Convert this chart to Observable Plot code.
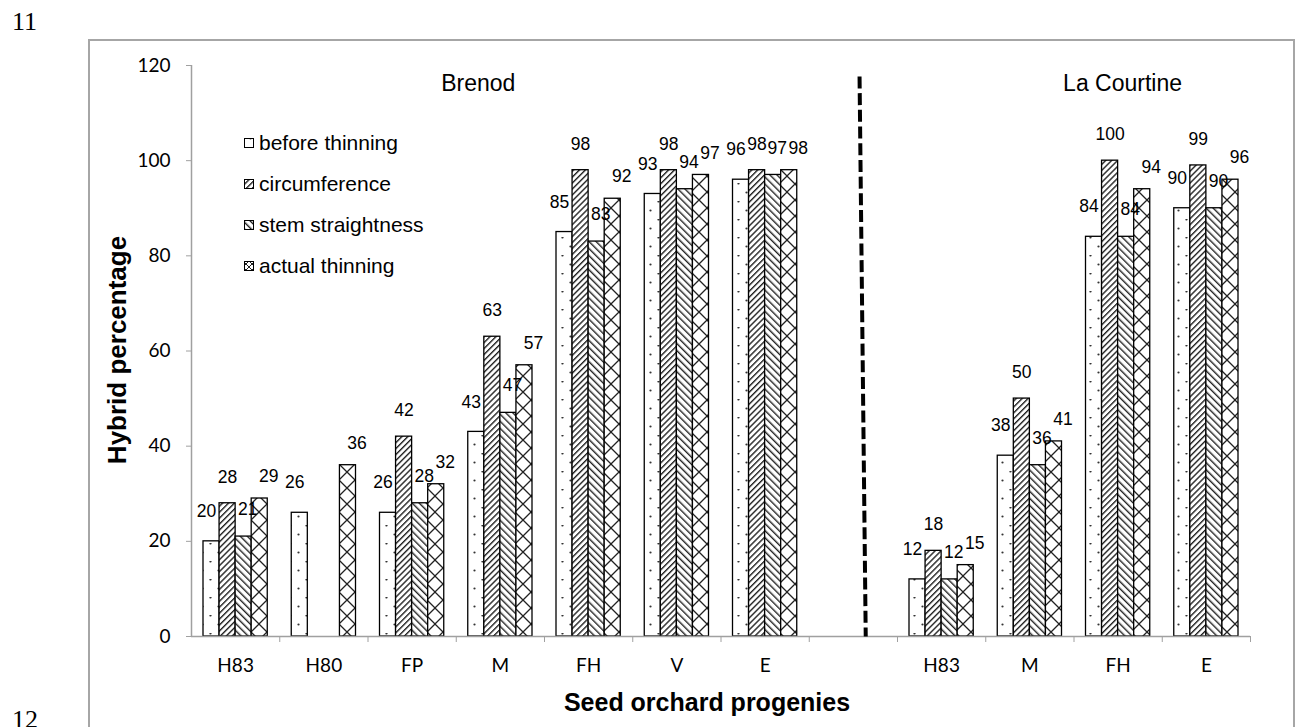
<!DOCTYPE html>
<html><head><meta charset="utf-8">
<script src="https://cdn.jsdelivr.net/npm/d3@7"></script>
<script src="https://cdn.jsdelivr.net/npm/@observablehq/plot@0.6"></script>
<style>
html,body{margin:0;padding:0;background:#fff;}
body{width:1297px;height:727px;overflow:hidden;position:relative;}
#chart{position:absolute;left:0;top:0;}
.frame{position:absolute;left:88px;top:39px;width:1207px;height:800px;border:2px solid #a6a6a6;box-sizing:border-box;pointer-events:none;}
.pnum{position:absolute;font-family:"Liberation Serif",serif;font-size:26px;line-height:26px;color:#000;}
.ytitle{position:absolute;left:117px;top:350px;transform:translate(-50%,-50%) rotate(-90deg);font-family:"Liberation Sans",Arial,sans-serif;font-weight:bold;font-size:26px;white-space:nowrap;line-height:26px;}
.xtitle{position:absolute;left:707px;top:690px;transform:translateX(-50%);font-family:"Liberation Sans",Arial,sans-serif;font-weight:bold;font-size:25px;white-space:nowrap;line-height:25px;}
#legend{position:absolute;left:0;top:0;}
</style></head><body>
<div id="chart"></div>
<div class="frame"></div>
<div class="pnum" style="left:12px;top:9px;">11</div>
<div class="pnum" style="left:12px;top:707px;">12</div>
<div class="ytitle">Hybrid percentage</div>
<div class="xtitle">Seed orchard progenies</div>
<script>
// ---- data ----
const brenodCats = ["H83","H80","FP","M","FH","V","E"];
const courtineCats = ["H83","M","FH","E"];
const seriesNames = ["before thinning","circumference","stem straightness","actual thinning"];
const brenodBefore = [20,26,26,43,85,93,96];
const brenodCirc   = [28,null,42,63,98,98,98];
const brenodStem   = [21,null,28,47,83,94,97];
const brenodActual = [29,36,32,57,92,97,98];
const courtineBefore = [12,38,84,90];
const courtineCirc   = [18,50,100,99];
const courtineStem   = [12,36,84,90];
const courtineActual = [15,41,94,96];
const yTicks = [0,20,40,60,80,100,120];
const sites = ["Brenod","La Courtine"];

// ---- layout constants ----
const nSlots = 12;             // 7 Brenod + 1 gap + 4 La Courtine
const courtineStart = 8;
const PAD = 0.136;             // outer padding of a group inside its slot
const BW = (1 - 2*PAD) / 4;    // bar width in slot units
const patternIds = ["pDots","pFwd","pBack","pCross"];
const labelDx = [-5, 0, 4, 9];       // per-series label nudges (px)
const labelDy = [-30, -26, -27, -22];

const slotLabels = new Array(nSlots).fill("");
brenodCats.forEach((c,i)=> slotLabels[i] = c);
courtineCats.forEach((c,i)=> slotLabels[courtineStart+i] = c);
const labelCenters = slotLabels.map((l,i)=> l ? i + 0.5 : null).filter(d => d !== null);

const rows = [];
[brenodBefore, brenodCirc, brenodStem, brenodActual].forEach((arr,s)=>
  arr.forEach((v,i)=>{ if (v != null) rows.push({slot:i, series:s, value:v}); }));
[courtineBefore, courtineCirc, courtineStem, courtineActual].forEach((arr,s)=>
  arr.forEach((v,i)=>{ if (v != null) rows.push({slot:courtineStart+i, series:s, value:v}); }));
rows.forEach(d => { d.x1 = d.slot + PAD + d.series*BW; d.x2 = d.x1 + BW; d.xc = (d.x1 + d.x2)/2; });

const siteLabels = [
  {name: sites[0], x: 3.25, y: 116.2},
  {name: sites[1], x: 10.55, y: 116.2}
];

const labelMarks = [0,1,2,3].map(s =>
  Plot.text(rows.filter(d => d.series === s), {x: "xc", y: "value", text: d => String(d.value),
    dx: labelDx[s], dy: labelDy[s], fontSize: 17.5, fill: "#000"}));

const plot = Plot.plot({
  width: 1297, height: 727,
  marginLeft: 191, marginRight: 47, marginTop: 65, marginBottom: 91,
  style: {background: "transparent", fontFamily: "Liberation Sans, Arial, sans-serif", overflow: "visible"},
  x: {type: "linear", domain: [0, nSlots]},
  y: {domain: [0, 120]},
  color: {type: "identity"},
  marks: [
    Plot.rectY(rows, {x1: "x1", x2: "x2", y1: 0, y2: "value", fill: d => `url(#${patternIds[d.series]})`, stroke: "#000", strokeWidth: 1.3}),
    Plot.ruleX([0], {stroke: "#a0a0a0", strokeWidth: 1.5}),
    Plot.ruleY([0], {x1: 0, x2: nSlots, stroke: "#a0a0a0", strokeWidth: 1.5}),
    Plot.axisY({ticks: yTicks, tickSize: 5, tickPadding: 16, stroke: "#a0a0a0", fill: "#000", fontFamily: "Lato", fontSize: 19, label: null}),
    Plot.axisX({ticks: d3.range(1, nSlots + 1), tickSize: 6, tickFormat: () => "", stroke: "#a0a0a0", label: null}),
    Plot.axisX({ticks: labelCenters, tickSize: 0, tickPadding: 22, tickFormat: d => slotLabels[Math.floor(d)], fill: "#000", fontFamily: "Lato", fontSize: 19, label: null}),
    ...labelMarks,
    Plot.link([{a: 7.57, b: 117.7, c: 7.64, d: 0}], {x1: "a", y1: "b", x2: "c", y2: "d", stroke: "#000", strokeWidth: 4, strokeDasharray: "12,4.7"}),
    Plot.text(siteLabels, {x: "x", y: "y", text: "name", fontSize: 23, fill: "#000"})
  ]
});

// pattern definitions
const defsMarkup = `
<pattern id="pDots" patternUnits="userSpaceOnUse" x="2" y="3" width="16" height="18">
  <rect width="16" height="18" fill="#fff"/>
  <circle cx="0.5" cy="0.5" r="1.1" fill="#333"/>
  <circle cx="16.5" cy="0.5" r="1.1" fill="#333"/>
  <circle cx="8.5" cy="9.5" r="1.1" fill="#333"/>
</pattern>
<pattern id="pFwd" patternUnits="userSpaceOnUse" width="4.2" height="4.2" patternTransform="rotate(45)">
  <rect width="4.2" height="4.2" fill="#fff"/>
  <line x1="0.7" y1="-1" x2="0.7" y2="6" stroke="#222" stroke-width="1.4"/>
</pattern>
<pattern id="pBack" patternUnits="userSpaceOnUse" width="5" height="5" patternTransform="rotate(-45)">
  <rect width="5" height="5" fill="#fff"/>
  <line x1="0.7" y1="-1" x2="0.7" y2="6" stroke="#222" stroke-width="1.4"/>
</pattern>
<pattern id="pCross" patternUnits="userSpaceOnUse" x="3" y="0" width="16" height="16">
  <rect width="16" height="16" fill="#fff"/>
  <path d="M-2,-2 L18,18 M18,-2 L-2,18" stroke="#222" stroke-width="1.3"/>
</pattern>
<pattern id="pCrossSmall" patternUnits="userSpaceOnUse" width="6" height="6">
  <rect width="6" height="6" fill="#fff"/>
  <path d="M-1,-1 L7,7 M7,-1 L-1,7" stroke="#222" stroke-width="1"/>
</pattern>`;
const defs = document.createElementNS("http://www.w3.org/2000/svg", "defs");
defs.innerHTML = defsMarkup;
plot.insertBefore(defs, plot.firstChild);
document.getElementById("chart").appendChild(plot);

// legend (HTML overlay with SVG swatches)
const legendTop = 143, legendStep = 41;
const swatchIds = ["pDots","pFwd","pBack","pCrossSmall"];
const leg = d3.select("body").append("svg").attr("id", "legend").attr("width", 1297).attr("height", 727)
  .style("position", "absolute").style("left", "0px").style("top", "0px").style("pointer-events", "none");
seriesNames.forEach((name, i) => {
  const cy = legendTop + i * legendStep;
  leg.append("rect").attr("x", 244.5).attr("y", cy - 4.5).attr("width", 9).attr("height", 9)
    .attr("fill", `url(#${swatchIds[i]})`).attr("stroke", "#000").attr("stroke-width", 1);
  leg.append("text").attr("x", 259).attr("y", cy).attr("dy", "0.35em")
    .attr("font-family", "Liberation Sans, Arial, sans-serif").attr("font-size", 21).text(name);
});
</script>
</body></html>
